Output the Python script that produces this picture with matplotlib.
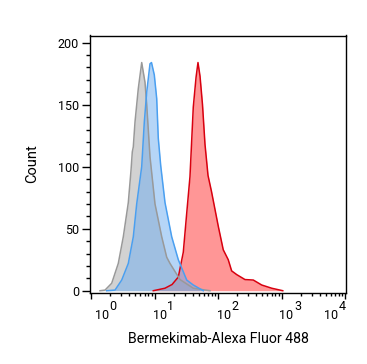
import numpy as np
import matplotlib
matplotlib.use('Agg')
from matplotlib import pyplot as plt
from matplotlib.ticker import MultipleLocator, LogLocator, NullFormatter

plt.rcParams['font.family'] = ['Roboto', 'DejaVu Sans']

# histogram outlines (intensity, count)
gray_x = [1.386, 1.662, 2.118, 2.69, 3.226, 3.867, 4.266, 4.471, 4.636, 4.931,
          5.558, 6.287, 7.087, 7.539, 8.494, 10.18, 12.99, 15.57, 17.54, 25.21,
          40.83, 74.8]
gray_y = [0, 0.5, 6, 22, 43.5, 71, 97, 112, 116, 136,
          163, 184, 168, 150, 108, 70, 43.5, 27, 22, 9,
          2, 0]

blue_x = [1.767, 2.388, 3.045, 3.867, 4.636, 5.245, 6.287, 6.910, 7.539, 8.494,
          8.970, 9.929, 10.83, 11.47, 12.52, 14.64, 18.66, 23.71, 32.15, 40.83,
          58.68]
blue_y = [0, 0.5, 8.6, 22, 43.5, 70, 100, 136, 160, 183,
          184, 174, 155, 123, 101, 71, 43.5, 25, 8.6, 4.6,
          0]

red_x = [9.57, 14.6, 18.9, 23.7, 28.4, 32.1, 36.2, 40.8, 45.1, 48.4,
         52.1, 57.0, 62.4, 69.6, 79.0, 101, 121, 145, 164, 197,
         266, 360, 488, 702, 1047]
red_y = [0, 2, 5, 11, 31, 62, 92, 148, 172, 184,
         173, 150, 118, 93, 80, 52, 33, 25, 16, 13,
         9, 8.6, 4.6, 2, 0]

decades = [0, 1, 2, 3, 4]
label_dx = [4, -1.5, -1.5, -2, -21]   # label shift in px, as placed in the original

fig = plt.figure(figsize=(3.67, 3.64), dpi=100)
ax = fig.add_axes([90/367, 1 - 292.7/364, 256/367, 257.2/364])

ax.fill_between(red_x, red_y, color=(1.0, 0.0, 0.0), alpha=0.41, linewidth=0)
ax.plot(red_x, red_y, color='#d8000f', lw=1.1)
ax.fill_between(gray_x, gray_y, color=(0.63, 0.63, 0.63), alpha=0.47, linewidth=0)
ax.plot(gray_x, gray_y, color='#999999', lw=1.1)
ax.fill_between(blue_x, blue_y, color=(110/255, 173/255, 241/255), alpha=0.51, linewidth=0)
ax.plot(blue_x, blue_y, color='#4a9ff0', lw=1.1)

ax.set_xscale('log')
ax.set_xlim(10**(-1/63.5), 10**(4 + 1/63.5))
ax.set_ylim(-1.6, 205.8)

ax.yaxis.set_major_locator(MultipleLocator(50))
ax.yaxis.set_minor_locator(MultipleLocator(10))
ax.xaxis.set_major_locator(LogLocator(base=10, numticks=10))
ax.xaxis.set_minor_locator(LogLocator(base=10, subs=np.arange(2, 10), numticks=20))
ax.xaxis.set_major_formatter(NullFormatter())
ax.xaxis.set_minor_formatter(NullFormatter())

ax.tick_params(axis='y', which='major', length=6, width=1, labelsize=9, pad=2)
ax.tick_params(axis='y', which='minor', length=3, width=1)
ax.tick_params(axis='x', which='major', length=4.5, width=1)
ax.tick_params(axis='x', which='minor', length=2.5, width=1)
for s in ax.spines.values():
    s.set_linewidth(1)

for d, dx in zip(decades, label_dx):
    ax.annotate('10', xy=(10**d, 0), xycoords=('data', 'axes fraction'),
                xytext=(dx, -26), textcoords='offset pixels',
                ha='left', va='baseline', fontsize=9, annotation_clip=False)
    ax.annotate(str(d), xy=(10**d, 0), xycoords=('data', 'axes fraction'),
                xytext=(dx + 14.5, -17.3), textcoords='offset pixels',
                ha='left', va='baseline', fontsize=9, annotation_clip=False)

ax.set_xlabel('Bermekimab-Alexa Fluor 488', fontsize=10.2)
ax.xaxis.set_label_coords(0.5, -(332 - 292.7) / 257.2)
ax.set_ylabel('Count', fontsize=10.5)
ax.yaxis.set_label_coords(-(90 - 39) / 256, 0.5)

fig.savefig('out.png', dpi=100)
